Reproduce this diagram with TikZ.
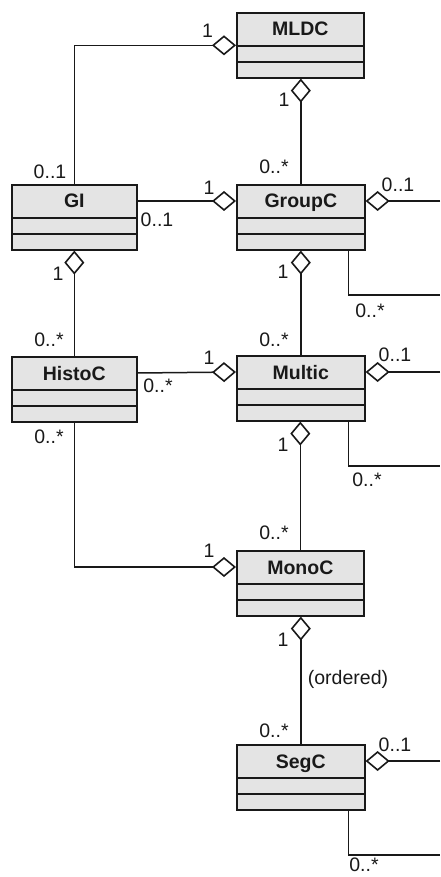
\documentclass[tikz,border=0pt]{standalone}
\usepackage{fontspec}
\setmainfont{Liberation Sans}
\usetikzlibrary{arrows.meta,calc}
\definecolor{clsgray}{RGB}{228,228,228}
\definecolor{ink}{RGB}{25,25,25}
\tikzset{
  cls/.style={draw=ink, fill=clsgray, line width=1.6pt, minimum width=#1, minimum height=65pt, anchor=north west, inner sep=0pt},
  ttl/.style={font=\fontsize{19.5}{19.5}\selectfont\bfseries, inner sep=0pt, anchor=base, text=ink},
  lab/.style={font=\fontsize{19.5}{19.5}\selectfont, inner sep=0pt, text=ink},
  conn/.style={draw=ink, line width=1.5pt},
  agg/.style={conn, -{Diamond[open, length=24pt, width=20pt, line width=1.6pt]}},
  divider/.style={draw=ink, line width=1.6pt},
}
\newcommand\umlcls[5]{%
  \node[cls=#4] (#1) at (#2,#3) {};
  \node[ttl] (#1-t) at ($(#1.north)+(0,24)$) {#5};
  \draw[divider] ($(#1.north west)+(0,34)$) -- ($(#1.north east)+(0,34)$);
  \draw[divider] ($(#1.north west)+(0,50)$) -- ($(#1.north east)+(0,50)$);
  \coordinate (#1-hw) at ($(#1.north west)+(0,17)$);
  \coordinate (#1-he) at ($(#1.north east)+(0,17)$);
}
\begin{document}
\begin{tikzpicture}[x=1pt,y=-1pt]
\useasboundingbox (0,0) rectangle (440,877);
\umlcls{MLDC}{236}{12}{127}{MLDC}
\umlcls{GI}{11}{184}{125}{GI}
\umlcls{GroupC}{236}{184}{128}{GroupC}
\umlcls{HistoC}{11}{356}{125}{HistoC}
\umlcls{Multic}{236}{355}{128}{Multic}
\umlcls{MonoC}{236}{550}{127}{MonoC}
\umlcls{SegC}{236}{744}{128}{SegC}

\coordinate (gcR) at (440,201);
\coordinate (gcB) at (440,295);
\coordinate (mcR) at (440,372);
\coordinate (mcB) at (440,466);
\coordinate (scR) at (440,761);
\coordinate (scB) at (440,855);

\draw[agg] (GI.north) |- (MLDC.west);
\draw[agg] (GroupC.north) -- (GroupC.north |- MLDC.south);
\draw[agg] (GI-he) -- (GroupC-hw);
\draw[agg] (gcR) -- (GroupC-he);
\draw[conn] ($(GroupC.south east)+(-17,0)$) |- (gcB);
\draw[agg] (Multic.north) -- (GroupC.south);
\draw[agg] (HistoC.north) -- (GI.south);
\draw[agg] (HistoC-he) -- (Multic-hw);
\draw[agg] (mcR) -- (Multic-he);
\draw[conn] ($(Multic.south east)+(-17,0)$) |- (mcB);
\draw[agg] (MonoC.north) -- (MonoC.north |- Multic.south);
\draw[agg] (HistoC.south) |- (MonoC-hw);
\draw[agg] (SegC.north) -- (SegC.north |- MonoC.south);
\draw[agg] (scR) -- (SegC-he);
\draw[conn] ($(SegC.south east)+(-17,0)$) |- (scB);

\node[lab] (l1) at (207.5,31) {1};
\node[lab] (l2) at (284,100) {1};
\node[lab] (l3) at (50,172) {0..1};
\node[lab] (l4) at (209,188) {1};
\node[lab] (l5) at (157,220) {0..1};
\node[lab] (l6) at (274,167) {0..*};
\node[lab] (l7) at (398,185) {0..1};
\node[lab] (l8) at (283,272) {1};
\node[lab] (l8b) at (58,274) {1};
\node[lab] (l9) at (370,311) {0..*};
\node[lab] (l10) at (49,340) {0..*};
\node[lab] (l11) at (209,358) {1};
\node[lab] (l12) at (158,386) {0..*};
\node[lab] (l13) at (49,437) {0..*};
\node[lab] (l14) at (274,340) {0..*};
\node[lab] (l15) at (395,355) {0..1};
\node[lab] (l16) at (283,445) {1};
\node[lab] (l17) at (367,480) {0..*};
\node[lab] (l18) at (274,533) {0..*};
\node[lab] (l19) at (209,551) {1};
\node[lab] (l20) at (283,640) {1};
\node[lab] (l21) at (348,679) {(ordered)};
\node[lab] (l22) at (274,731) {0..*};
\node[lab] (l23) at (395,745) {0..1};
\node[lab] (l24) at (364,865) {0..*};
\end{tikzpicture}
\end{document}
